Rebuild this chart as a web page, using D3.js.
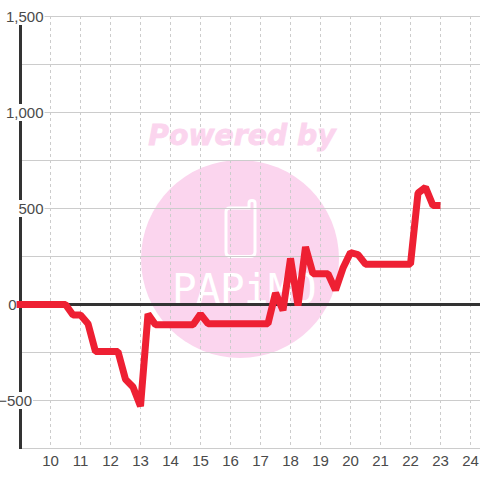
<!DOCTYPE html>
<html>
<head>
<meta charset="utf-8">
<script src="https://cdn.jsdelivr.net/npm/d3@7"></script>
<style>
html, body { margin: 0; padding: 0; background: #fff; }
text { font-family: "Liberation Sans", sans-serif; }
</style>
</head>
<body>
<div id="chart"></div>
<script>
const width = 480;
const height = 480;

// Hours on the x axis
const xTicks = [10, 11, 12, 13, 14, 15, 16, 17, 18, 19, 20, 21, 22, 23, 24];
const yTicks = [-750, -500, -250, 0, 250, 500, 750, 1000, 1250, 1500];
const yLabels = [-500, 0, 500, 1000, 1500];

const hours = [8.87, 10.5, 10.75, 11, 11.25, 11.5, 12.25, 12.5, 12.75, 13, 13.25, 13.5, 14.75, 15, 15.25, 17.25, 17.5, 17.75, 18, 18.25, 18.5, 18.75, 19.25, 19.5, 19.75, 20, 20.25, 20.5, 22, 22.25, 22.5, 22.75, 23];
const values = [0, 0, -55, -55, -100, -245, -245, -390, -430, -530, -50, -105, -105, -50, -100, -100, 60, -30, 240, -5, 300, 160, 160, 75, 190, 270, 260, 210, 210, 580, 610, 515, 515];

// half pixel offsets keep the 1px grid lines crisp
const x = d3.scaleLinear().domain([9, 24]).range([20.5, 470.5]);
const y = d3.scaleLinear().domain([-750, 1500]).range([448.5, 16.5]);

const svg = d3.select("#chart")
    .append("svg")
    .attr("width", width)
    .attr("height", height)
    .style("display", "block");

// Watermark sits under the grid
svg.append("circle")
    .attr("cx", 240).attr("cy", 259).attr("r", 99)
    .attr("fill", "#fbd5ee");

svg.append("text")
    .attr("x", 242).attr("y", 145)
    .attr("text-anchor", "middle")
    .attr("font-size", 28.3)
    .attr("font-weight", "bold")
    .attr("font-style", "italic")
    .style("font-family", "'DejaVu Sans', sans-serif")
    .attr("fill", "#fbd5ee")
    .attr("stroke", "#fbd5ee")
    .attr("stroke-width", 0.8)
    .text("Powered by");

// phone icon
svg.append("path")
    .attr("d", "M230 208 H249 V203 Q249 200.5 252 200.5 Q255 200.5 255 203 V252 Q255 256.5 250 256.5 H231 Q226 256.5 226 252 V212 Q226 208 230 208 Z")
    .attr("fill", "none")
    .attr("stroke", "#fff")
    .attr("stroke-width", 3);

svg.append("text")
    .attr("x", 172).attr("y", 303)
    .attr("font-size", 41)
    .attr("letter-spacing", -0.7)
    .style("font-family", "'DejaVu Sans Mono', monospace")
    .attr("fill", "#fff")
    .text("PAPiMO");

// Grid
svg.append("g")
    .selectAll("line")
    .data(yTicks)
    .join("line")
    .attr("x1", 20).attr("x2", width)
    .attr("y1", d => y(d)).attr("y2", d => y(d))
    .attr("stroke", "#ccc")
    .attr("stroke-width", 1);

svg.append("g")
    .selectAll("line")
    .data(xTicks)
    .join("line")
    .attr("x1", d => x(d)).attr("x2", d => x(d))
    .attr("y1", 16).attr("y2", 448)
    .attr("stroke", "#ccc")
    .attr("stroke-dasharray", "3,3");

// Axis lines
svg.append("line")
    .attr("x1", x(9)).attr("x2", x(9))
    .attr("y1", 16).attr("y2", 449)
    .attr("stroke", "#333")
    .attr("stroke-width", 3);

svg.append("line")
    .attr("x1", 19).attr("x2", width)
    .attr("y1", y(0)).attr("y2", y(0))
    .attr("stroke", "#333")
    .attr("stroke-width", 3);

// Tick labels
svg.append("g")
    .selectAll("text")
    .data(xTicks)
    .join("text")
    .attr("x", d => x(d))
    .attr("y", 466)
    .attr("text-anchor", "middle")
    .attr("font-size", 15)
    .attr("fill", "#4a4a4a")
    .text(d => d);

const yFormat = d3.format(",");
const yGroup = svg.append("g");
const yText = yGroup.selectAll("text")
    .data(yLabels)
    .join("text")
    .attr("x", d => d > 0 ? 43.5 : (d === 0 ? 16.5 : 32))
    .attr("y", d => y(d) + 5.5)
    .attr("text-anchor", "end")
    .attr("font-size", 15)
    .attr("fill", "#4a4a4a")
    .text(d => yFormat(d));

// white box behind each y label, it cuts the axis and the grid line
yText.each(function() {
    const b = this.getBBox();
    yGroup.insert("rect", "text")
        .attr("x", b.x - 1).attr("y", b.y)
        .attr("width", b.width + 2).attr("height", b.height)
        .attr("fill", "#fff");
});

// Series
const line = d3.line()
    .x((d, i) => x(hours[i]))
    .y(d => y(d));

svg.append("path")
    .datum(values)
    .attr("d", line)
    .attr("fill", "none")
    .attr("stroke", "#ee2033")
    .attr("stroke-width", 7)
    .attr("stroke-linejoin", "bevel");
</script>
</body>
</html>
